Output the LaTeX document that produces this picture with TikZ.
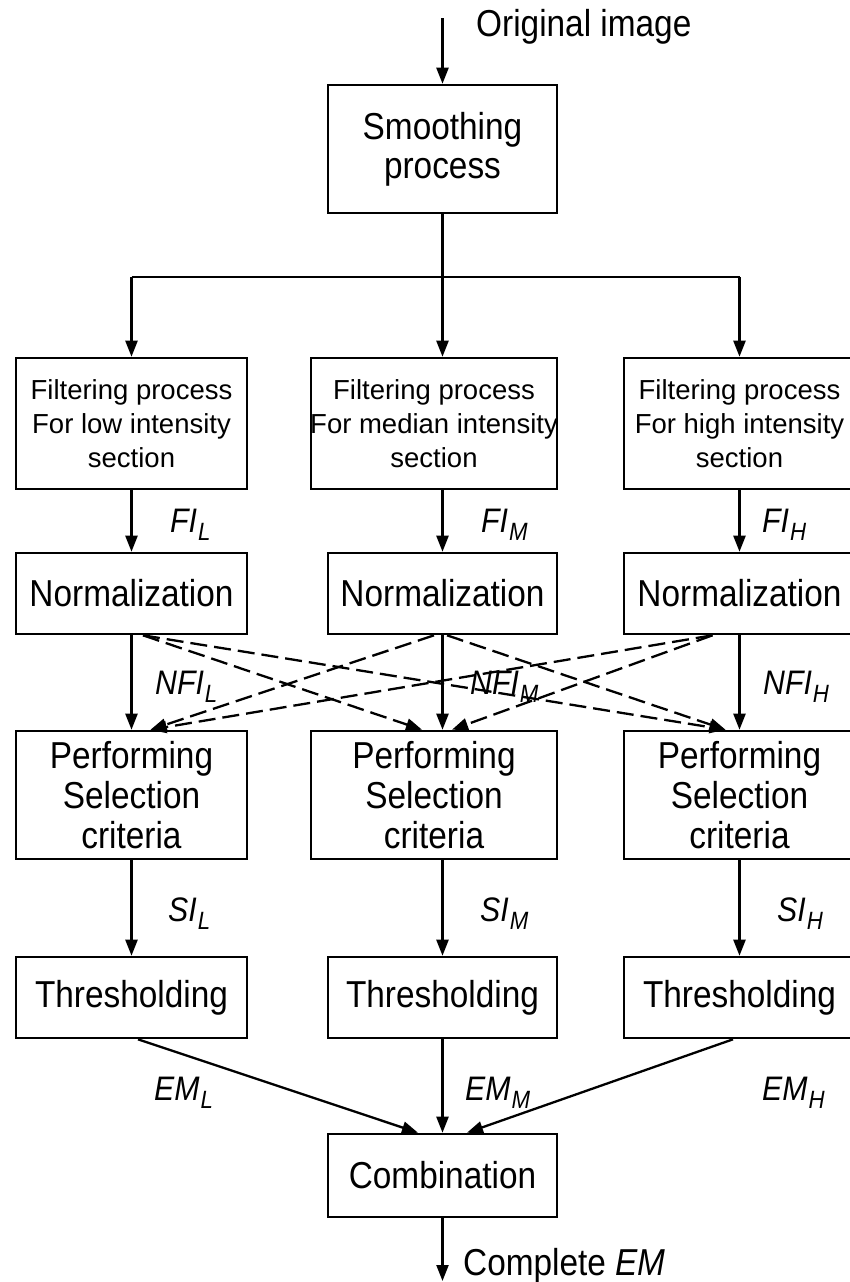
\documentclass[tikz,border=0pt]{standalone}
\usepackage{fontspec}
\setmainfont{Liberation Sans}
\newfontfamily\narrowsans[FakeStretch=0.89]{Liberation Sans}
\usetikzlibrary{arrows.meta,calc}

% italic symbol with a lowered italic subscript
\newcommand{\sublab}[2]{\textit{#1}\hspace{1pt}\raisebox{-8pt}{\fontsize{25}{25}\selectfont\textit{#2}}}
% a line of text that may run past the box border without widening it
\newcommand{\wideline}[1]{\makebox[0pt]{#1}}

\begin{document}
\begin{tikzpicture}[x=1pt,y=-1pt,
  box/.style={draw, line width=2.6pt, inner sep=0pt, align=center,
    font=\narrowsans\fontsize{37.5}{39}\selectfont},
  filt/.style={box, font=\fontsize{27.5}{34}\selectfont,
    minimum width=231pt, minimum height=131pt},
  norm/.style={box, minimum width=231pt, minimum height=81pt},
  perf/.style={box, font=\narrowsans\fontsize{37.5}{40}\selectfont,
    minimum width=231pt, minimum height=128pt},
  flow/.style={line width=2.3pt, -{Triangle[length=16pt,width=12pt]}},
  plain/.style={line width=2.3pt},
  cross/.style={flow, dash pattern=on 17pt off 7pt},
  lab/.style={anchor=base west, inner sep=0pt,
    font=\narrowsans\fontsize{34}{34}\selectfont},
  say/.style={anchor=base west, inner sep=0pt,
    font=\narrowsans\fontsize{37.5}{39}\selectfont},
]
\path[use as bounding box] (0,0) rectangle (850,1282);
\clip (0,0) rectangle (850,1282);

% ---- top: input and smoothing
\node[say] (orig) at (476,36) {Original image};
\coordinate (src) at (442.5,18);
\node[box, minimum width=229pt, minimum height=128pt] (smooth) at (442.5,149) {Smoothing\\process};

% ---- filtering stage
\node[filt] (fL) at (131.5,423.5) {Filtering process\\For low intensity\\section};
\node[filt, minimum width=246pt] (fM) at (434,423.5) {Filtering process\\\wideline{For median intensity}\\section};
\node[filt] (fR) at (739.5,423.5) {Filtering process\\For high intensity\\section};

% ---- normalization stage
\node[norm] (nL) at (131.5,593.5) {Normalization};
\node[norm, minimum width=229pt] (nM) at (442.5,593.5) {Normalization};
\node[norm] (nR) at (739.5,593.5) {Normalization};

% ---- selection criteria stage
\node[perf] (pL) at (131.5,795) {Performing\\Selection\\criteria};
\node[perf, minimum width=246pt] (pM) at (434,795) {Performing\\Selection\\criteria};
\node[perf] (pR) at (739.5,795) {Performing\\Selection\\criteria};

% ---- thresholding stage
\node[norm] (tL) at (131.5,997.5) {Thresholding};
\node[norm, minimum width=229pt] (tM) at (442.5,997.5) {Thresholding};
\node[norm] (tR) at (739.5,997.5) {Thresholding};

% ---- combination and output
\node[norm, minimum width=229pt, minimum height=83pt] (comb) at (442.5,1175.5) {Combination};
\coordinate (out) at (442.5,1281);
\node[say] (done) at (463,1275) {Complete \textit{EM}};

% ---- connectors
\draw[flow] (src) -- (smooth.north);
\coordinate (split) at (442.5,277);
\draw[plain] (smooth.south) -- (split);
\draw[plain] (split -| fL.north) -- (split -| fR.north);
\draw[flow] (split -| fL.north) -- (fL.north);
\draw[flow] (split) -- (split |- fM.north);
\draw[flow] (split -| fR.north) -- (fR.north);

\draw[flow] (fL.south) -- (nL.north);
\draw[flow] (fM.south -| nM.north) -- (nM.north);
\draw[flow] (fR.south) -- (nR.north);

\draw[flow] (nL.south) -- (pL.north);
\draw[flow] (nM.south) -- (nM.south |- pM.north);
\draw[flow] (nR.south) -- (pR.north);

\draw[cross] ($(nL.south)+(11.5,0)$) -- ($(pM.north)+(-12,0)$);
\draw[cross] ($(nL.south)+(11.5,0)$) -- ($(pR.north)+(-14,0)$);
\draw[cross] ($(nM.south)+(-8.5,0)$) -- ($(pL.north)+(19,0)$);
\draw[cross] ($(nM.south)+(4.5,0)$) -- ($(pR.north)+(-14,0)$);
\draw[cross] ($(nR.south)+(-27,0)$) -- ($(pL.north)+(19,0)$);
\draw[cross] ($(nR.south)+(-27,0)$) -- ($(pM.north)+(18,0)$);

\draw[flow] (pL.south) -- (tL.north);
\draw[flow] (pM.south -| tM.north) -- (tM.north);
\draw[flow] (pR.south) -- (tR.north);

\draw[flow] ($(tL.south)+(6.5,0)$) -- ($(comb.north)+(-24.5,0)$);
\draw[flow] (tM.south) -- (comb.north);
\draw[flow] ($(tR.south)+(-6.5,0)$) -- ($(comb.north)+(24.5,0)$);
\draw[flow] (comb.south) -- (out);

% ---- signal labels
\node[lab] (lFL) at (170,532) {\sublab{FI}{L}};
\node[lab] (lFM) at (481,532) {\sublab{FI}{M}};
\node[lab] (lFH) at (762,532) {\sublab{FI}{H}};
\node[lab] (lNL) at (155,694) {\sublab{NFI}{L}};
\node[lab] (lNM) at (470,694) {\sublab{NFI}{M}};
\node[lab] (lNH) at (763,694) {\sublab{NFI}{H}};
\node[lab] (lSL) at (168,921) {\sublab{SI}{L}};
\node[lab] (lSM) at (480,921) {\sublab{SI}{M}};
\node[lab] (lSH) at (777,921) {\sublab{SI}{H}};
\node[lab] (lEL) at (154,1100) {\sublab{EM}{L}};
\node[lab] (lEM) at (465,1100) {\sublab{EM}{M}};
\node[lab] (lEH) at (762,1100) {\sublab{EM}{H}};
\end{tikzpicture}
\end{document}
